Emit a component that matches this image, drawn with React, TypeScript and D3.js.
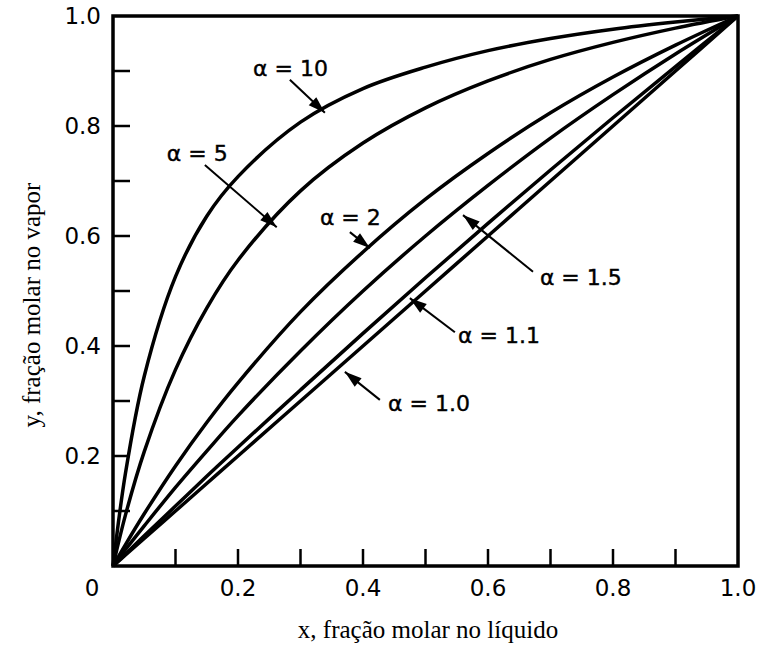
import React from "react";
import * as d3 from "d3";

// x, fração molar no líquido
const xValues = [0, 0.02, 0.05, 0.1, 0.15, 0.2, 0.3, 0.4, 0.5, 0.6, 0.7, 0.8, 0.9, 1.0];

// y for each curve
const yAlpha10 = [0, 0.169, 0.345, 0.526, 0.636, 0.708, 0.807, 0.868, 0.907, 0.937, 0.959, 0.976, 0.989, 1];
const yAlpha5 = [0, 0.093, 0.208, 0.357, 0.469, 0.556, 0.682, 0.769, 0.833, 0.882, 0.921, 0.952, 0.978, 1];
const yAlpha2 = [0, 0.039, 0.095, 0.182, 0.261, 0.333, 0.462, 0.571, 0.667, 0.75, 0.824, 0.889, 0.947, 1];
const yAlpha15 = [0, 0.03, 0.073, 0.143, 0.209, 0.273, 0.391, 0.5, 0.6, 0.692, 0.778, 0.857, 0.931, 1];
const yAlpha11 = [0, 0.022, 0.055, 0.109, 0.163, 0.216, 0.32, 0.423, 0.524, 0.623, 0.72, 0.815, 0.908, 1];
const yAlpha10eq = [0, 0.02, 0.05, 0.1, 0.15, 0.2, 0.3, 0.4, 0.5, 0.6, 0.7, 0.8, 0.9, 1];

const curves = [yAlpha10, yAlpha5, yAlpha2, yAlpha15, yAlpha11, yAlpha10eq];

const xTickLabels = ["0.2", "0.4", "0.6", "0.8", "1.0"];
const yTickLabels = ["0.2", "0.4", "0.6", "0.8", "1.0"];

// label text, label anchor (data), arrow start, arrow tip (data)
const labelTexts = ["α = 10", "α = 5", "α = 2", "α = 1.5", "α = 1.1", "α = 1.0"];
const labelPos = [[0.224, 0.891], [0.086, 0.736], [0.331, 0.62], [0.683, 0.511], [0.552, 0.405], [0.44, 0.282]];
const arrowFrom = [[0.283, 0.884], [0.147, 0.729], [0.379, 0.607], [0.672, 0.535], [0.547, 0.425], [0.427, 0.302]];
const arrowTo = [[0.339, 0.824], [0.262, 0.616], [0.411, 0.578], [0.56, 0.638], [0.475, 0.487], [0.371, 0.353]];

const W = 757;
const H = 650;
const left = 113;
const right = 738;
const top = 16;
const bottom = 566;

const sans = "DejaVu Sans";
const serif = "Liberation Serif";

export default function App() {
  const x = d3.scaleLinear().domain([0, 1]).range([left, right]);
  const y = d3.scaleLinear().domain([0, 1]).range([bottom, top]);

  const line = d3
    .line<number>()
    .x((_, i) => x(xValues[i]))
    .y((d) => y(d))
    .curve(d3.curveCatmullRom.alpha(0.5));

  const ticks = d3.range(1, 10).map((i) => i / 10);

  const arrowHead = (from: number[], to: number[]) => {
    const x0 = x(from[0]);
    const y0 = y(from[1]);
    const x1 = x(to[0]);
    const y1 = y(to[1]);
    const a = Math.atan2(y1 - y0, x1 - x0);
    const len = 17;
    const w = 5.5;
    const bx = x1 - len * Math.cos(a);
    const by = y1 - len * Math.sin(a);
    const px = -Math.sin(a) * w;
    const py = Math.cos(a) * w;
    return `M${x1},${y1}L${bx + px},${by + py}L${bx - px},${by - py}Z`;
  };

  return (
    <svg
      width={W}
      height={H}
      style={{ position: "absolute", left: 0, top: 0, background: "#fff" }}
    >
      {/* curves */}
      <g fill="none" stroke="#000" strokeWidth={3.5} strokeLinejoin="round">
        {curves.map((c, i) => (
          <path key={i} d={line(c) ?? ""} />
        ))}
      </g>

      {/* frame */}
      <rect
        x={left}
        y={top}
        width={right - left}
        height={bottom - top}
        fill="none"
        stroke="#000"
        strokeWidth={3.5}
      />

      {/* ticks */}
      <g stroke="#000" strokeWidth={2.5}>
        {ticks.map((t) => (
          <line key={"xt" + t} x1={x(t)} x2={x(t)} y1={bottom} y2={bottom - 17} />
        ))}
        {ticks.map((t) => (
          <line key={"yt" + t} x1={left} x2={left + 17} y1={y(t)} y2={y(t)} />
        ))}
      </g>

      {/* tick labels */}
      <g fontFamily={sans} fontSize={23} fill="#000">
        <text x={92} y={596} textAnchor="middle">0</text>
        {xTickLabels.map((l) => (
          <text key={"xl" + l} x={x(+l)} y={596} textAnchor="middle">
            {l}
          </text>
        ))}
        {yTickLabels.map((l) => (
          <text key={"yl" + l} x={101} y={y(+l) + 8} textAnchor="end">
            {l}
          </text>
        ))}
      </g>

      {/* axis titles */}
      <text
        x={428}
        y={638}
        textAnchor="middle"
        fontFamily={serif}
        fontSize={25}
      >
        x, fração molar no líquido
      </text>
      <text
        transform="translate(40,305) rotate(-90)"
        textAnchor="middle"
        fontFamily={serif}
        fontSize={25}
      >
        y, fração molar no vapor
      </text>

      {/* annotations */}
      <g>
        {labelTexts.map((t, i) => (
          <g key={t}>
            <text
              x={x(labelPos[i][0])}
              y={y(labelPos[i][1])}
              fontFamily={sans}
              fontSize={22}
              stroke="#000"
              strokeWidth={0.4}
            >
              {t}
            </text>
            <line
              x1={x(arrowFrom[i][0])}
              y1={y(arrowFrom[i][1])}
              x2={x(arrowTo[i][0])}
              y2={y(arrowTo[i][1])}
              stroke="#000"
              strokeWidth={2}
            />
            <path d={arrowHead(arrowFrom[i], arrowTo[i])} fill="#000" />
          </g>
        ))}
      </g>
    </svg>
  );
}
